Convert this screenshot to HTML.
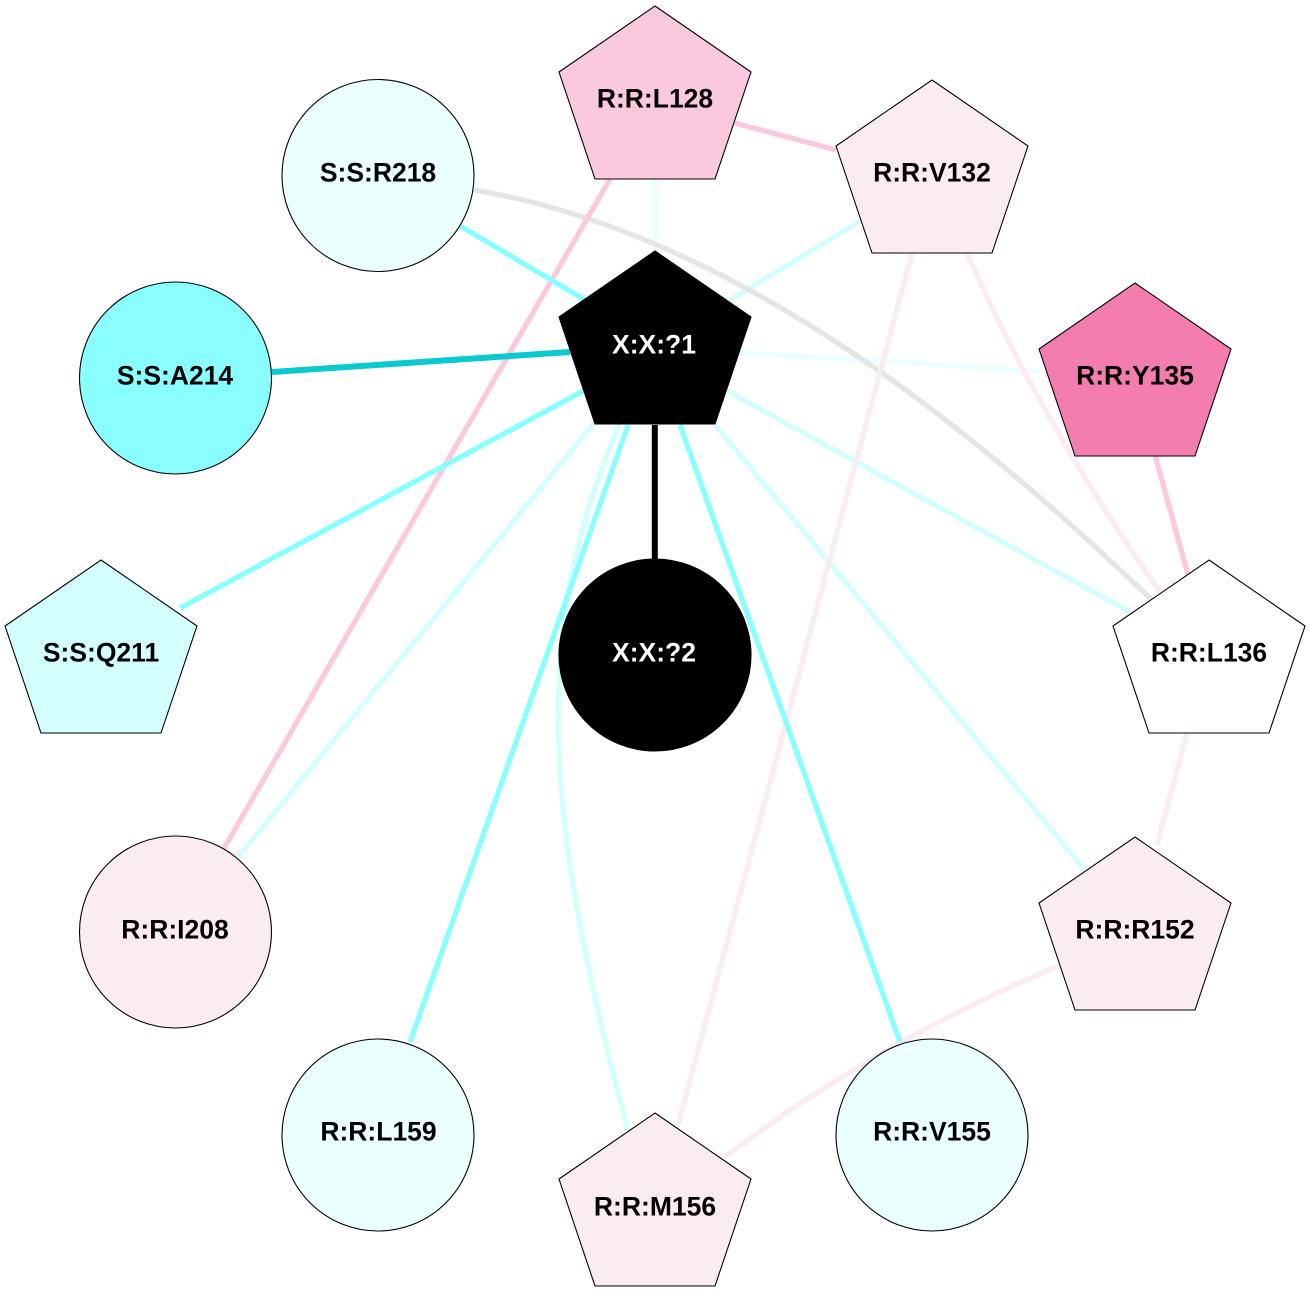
<!DOCTYPE html>
<html>
<head>
<meta charset="utf-8">
<style>
html,body{margin:0;padding:0;background:#fff;}
svg{display:block;}
text{font-family:"Liberation Sans",sans-serif;font-weight:bold;font-size:26.5px;text-anchor:middle;fill:#000;}
.n{stroke:#000;stroke-width:1.1;}
.e{fill:none;}
</style>
</head>
<body>
<svg width="1310" height="1310" viewBox="0 0 1310 1310" xmlns="http://www.w3.org/2000/svg">
<defs>
<polygon id="pent" points="0,0 96,66 60,173 -60,173 -96,66"/>
</defs>
<rect width="1310" height="1310" fill="#fff"/>

<!-- edges -->
<g class="e" stroke-linecap="butt" stroke-width="5.3">
<path d="M655,179L655,251" stroke="#e8ffff"/>
<path d="M862,220L730,300" stroke="#d4ffff"/>
<path d="M1040,372Q880,360 740,353" stroke="#eaffff"/>
<path d="M1130,612L725,390" stroke="#d4ffff"/>
<path d="M1085,870L715,425" stroke="#d4ffff"/>
<path d="M238,857L594,423" stroke="#d4ffff"/>
<path d="M628,1130C537,795 536,620 619,425" stroke="#d4ffff"/>
<path d="M474,190C745,235 990,445 1152,600" stroke="#e5e5e5"/>
<path d="M967,253Q1042,424 1160,592" stroke="#fbebf3"/>
<path d="M912,253L678,1125" stroke="#fbebf3"/>
<path d="M1187,733L1157,845" stroke="#fbebf3"/>
<path d="M1060,965C930,1020 820,1085 725,1157" stroke="#fbebf3"/>
<path d="M610,179L223,850" stroke="#fac9df"/>
<path d="M735,123L836,150" stroke="#fac9df"/>
<path d="M1155,455L1188,575" stroke="#fac9df"/>
<path d="M460,226L585,300" stroke="#8affff"/>
<path d="M180,608L585,390" stroke="#8affff"/>
<path d="M410,1042L628,425" stroke="#8affff"/>
<path d="M900,1042L680,425" stroke="#8affff"/>
<path d="M272,372L570,352" stroke="#0bc9d0" stroke-width="6"/>
<path d="M654.800,425L654.800,560" stroke="#000" stroke-width="6"/>
</g>

<!-- nodes -->
<use href="#pent" x="655" y="6" class="n" fill="#fac9df"/>
<use href="#pent" x="932" y="80" class="n" fill="#fbecf4"/>
<use href="#pent" x="1135" y="283" class="n" fill="#f27dae"/>
<use href="#pent" x="1209" y="560" class="n" fill="#ffffff"/>
<use href="#pent" x="1135" y="837" class="n" fill="#fbecf4"/>
<use href="#pent" x="655" y="1113" class="n" fill="#fbecf4"/>
<use href="#pent" x="101" y="560" class="n" fill="#d4ffff"/>
<use href="#pent" x="655" y="251" class="n" fill="#000000"/>
<circle cx="378" cy="175.500" r="96" class="n" fill="#eaffff"/>
<circle cx="175.500" cy="378" r="96" class="n" fill="#8affff"/>
<circle cx="175.500" cy="932" r="96" class="n" fill="#fbecf4"/>
<circle cx="378" cy="1135" r="96" class="n" fill="#eaffff"/>
<circle cx="932" cy="1135" r="96" class="n" fill="#eaffff"/>
<circle cx="655" cy="655" r="96" class="n" fill="#000000"/>

<!-- labels -->
<text x="655" y="107.500">R:R:L128</text>
<text x="932" y="181.500">R:R:V132</text>
<text x="1135" y="384.500">R:R:Y135</text>
<text x="1209" y="661.500">R:R:L136</text>
<text x="1135" y="938.500">R:R:R152</text>
<text x="655" y="1215.500">R:R:M156</text>
<text x="101" y="661.500">S:S:Q211</text>
<text x="378" y="181.500">S:S:R218</text>
<text x="175" y="384.500">S:S:A214</text>
<text x="175" y="938.500">R:R:I208</text>
<text x="378.500" y="1140.500">R:R:L159</text>
<text x="932" y="1140.500">R:R:V155</text>
<text x="654" y="353.500" style="fill:#fff">X:X:?1</text>
<text x="654" y="661.500" style="fill:#fff">X:X:?2</text>
</svg>
</body>
</html>
